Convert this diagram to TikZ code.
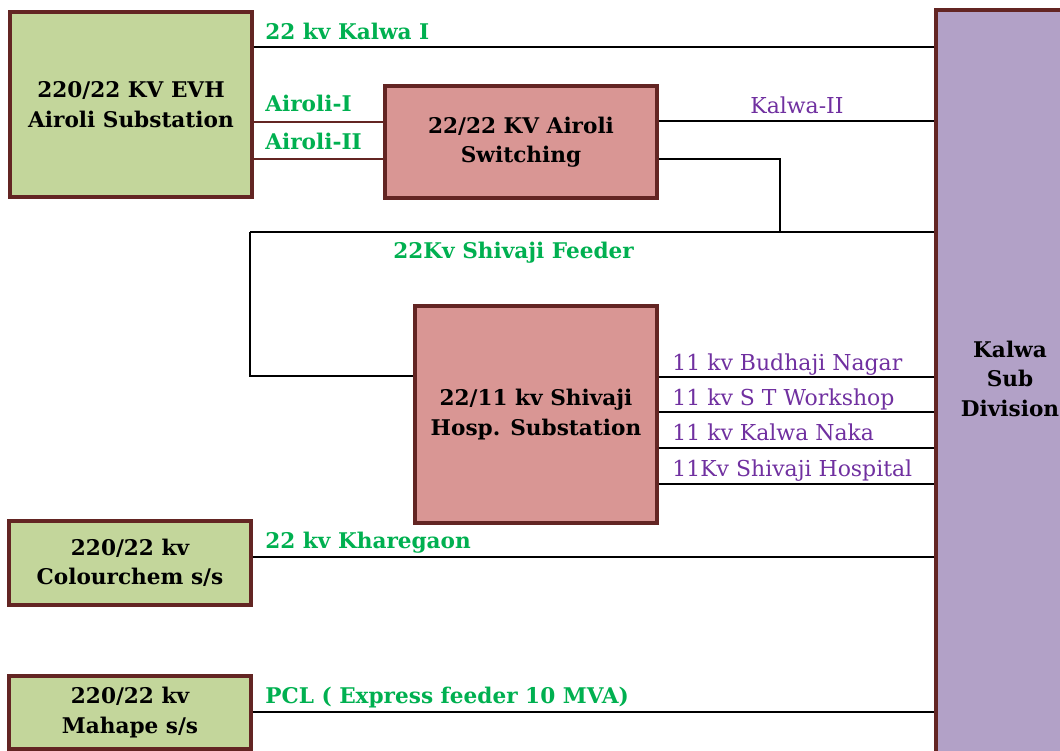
\documentclass[tikz,border=0pt]{standalone}
\usepackage{fontspec}
\setmainfont{DejaVu Serif}
\definecolor{boxline}{HTML}{632523}
\definecolor{gfill}{HTML}{C3D69B}
\definecolor{pfill}{HTML}{D99694}
\definecolor{vfill}{HTML}{B2A1C7}
\definecolor{glab}{HTML}{00B050}
\definecolor{vlab}{HTML}{7030A0}
\begin{document}
\begin{tikzpicture}[x=0.02cm,y=-0.02cm,
  boxbase/.style={draw=boxline,line width=1.8pt,align=center,inner sep=0pt,
    font=\fontsize{12.3}{16.8}\selectfont\bfseries},
  gbox/.style={boxbase,fill=gfill},
  pbox/.style={boxbase,fill=pfill},
  vbox/.style={boxbase,fill=vfill},
  wire/.style={draw=black,line width=1.2pt},
  thinwire/.style={draw=black,line width=0.9pt},
  bwire/.style={draw=boxline,line width=1.2pt},
  glabel/.style={anchor=base west,inner sep=0pt,text=glab,font=\fontsize{12.3}{14}\selectfont\bfseries},
  vlabel/.style={anchor=base west,inner sep=0pt,text=vlab,font=\fontsize{12.5}{14}\selectfont}
]
\useasboundingbox (0,0) rectangle (1060,750);
% boxes
\node[gbox,minimum width=4.84cm,minimum height=3.7cm] (evh) at (131,104.5) {220/22 KV EVH\\Airoli Substation};
\node[pbox,minimum width=5.44cm,minimum height=2.24cm] (sw) at (521,142) {22/22 KV Airoli\\Switching};
\node[pbox,minimum width=4.84cm,minimum height=4.34cm] (hosp) at (536,414.5) {22/11 kv Shivaji\\Hosp. Substation};
\node[gbox,minimum width=4.84cm,minimum height=1.68cm] (cc) at (130,563) {220/22 kv\\Colourchem s/s};
\node[gbox,minimum width=4.84cm,minimum height=1.46cm] (mh) at (130,712.5) {220/22 kv\\Mahape s/s};
\node[vbox,minimum width=2.96cm,minimum height=15.2cm] (kalwa) at (1010,390)
  {\raisebox{0.18cm}[\height][\depth]{\begin{tabular}{@{}c@{}}Kalwa\\Sub\\Division\end{tabular}}};
% junction points
\coordinate (j1) at (780,232);
\coordinate (c1) at (250,232);
% connectors
\draw[wire] (evh.east |- 0,47) -- (kalwa.west |- 0,47);
\draw[bwire] (evh.east |- 0,122) -- (sw.west |- 0,122);
\draw[bwire] (evh.east |- 0,159) -- (sw.west |- 0,159);
\draw[wire] (sw.east |- 0,121) -- (kalwa.west |- 0,121);
\draw[wire] (sw.east |- 0,159) -| (j1);
\draw[wire] (c1) -- (kalwa.west |- c1);
\draw[wire] (c1) |- (hosp.west |- 0,376);
\foreach \yy in {377,412,448,484}
  \draw[thinwire] (hosp.east |- 0,\yy) -- (kalwa.west |- 0,\yy);
\draw[thinwire] (cc.east |- 0,557) -- (kalwa.west |- 0,557);
\draw[thinwire] (mh.east |- 0,712) -- (kalwa.west |- 0,712);
% labels
\node[glabel] (l1) at (265,40) {22 kv Kalwa I};
\node[glabel] (l2) at (265,112) {Airoli-I};
\node[glabel] (l3) at (265,149) {Airoli-II};
\node[vlabel] (l4) at (750,113) {Kalwa-II};
\node[glabel] (l5) at (393,258) {22Kv Shivaji Feeder};
\node[vlabel] (l6) at (672,370) {11 kv Budhaji Nagar};
\node[vlabel] (l7) at (672,405) {11 kv S T Workshop};
\node[vlabel] (l8) at (672,440) {11 kv Kalwa Naka};
\node[vlabel] (l9) at (672,476) {11Kv Shivaji Hospital};
\node[glabel] (l10) at (265,548) {22 kv Kharegaon};
\node[glabel] (l11) at (265,703) {PCL ( Express feeder 10 MVA)};
\end{tikzpicture}
\end{document}
